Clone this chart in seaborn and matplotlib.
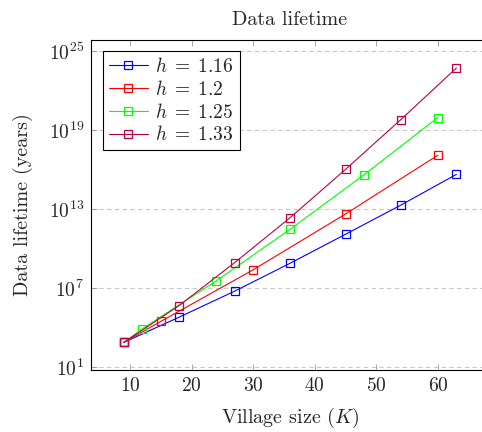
import numpy as np
import pandas as pd
import seaborn as sns
import matplotlib.pyplot as plt

# Values (log10 of data lifetime in years)
k_116 = [9, 18, 27, 36, 45, 54, 63]
log_116 = [2.87, 4.79, 6.76, 8.88, 11.08, 13.30, 15.63]

k_12 = [9, 15, 30, 45, 60]
log_12 = [2.87, 4.46, 8.38, 12.62, 17.09]

k_125 = [9, 12, 24, 36, 48, 60]
log_125 = [2.87, 3.90, 7.54, 11.46, 15.60, 19.95]

k_133 = [9, 18, 27, 36, 45, 54, 63]
log_133 = [2.87, 5.67, 8.93, 12.34, 16.01, 19.80, 23.71]

labels = [r'$h\;=\;1.16$', r'$h\;=\;1.2$', r'$h\;=\;1.25$', r'$h\;=\;1.33$']
colors = ['#0000ff', '#ff0000', '#00ff00', '#bf0040']

frames = []
for lab, ks, ls in zip(labels, [k_116, k_12, k_125, k_133],
                       [log_116, log_12, log_125, log_133]):
    frames.append(pd.DataFrame({'K': ks, 'life': 10.0 ** np.array(ls), 'h': lab}))
data = pd.concat(frames, ignore_index=True)

sns.set_style('ticks')
plt.rcParams['font.family'] = ['cmr10', 'DejaVu Serif']
plt.rcParams['mathtext.fontset'] = 'cm'
plt.rcParams['axes.formatter.use_mathtext'] = True

fig = plt.figure(figsize=(4.82, 4.32), dpi=100)
ax = fig.add_axes([91 / 482, 1 - 370 / 432, (489 - 91) / 482, (370 - 40) / 432])

sns.lineplot(data=data, x='K', y='life', hue='h', hue_order=labels,
             palette=colors, marker='s', markersize=6, markerfacecolor='none',
             markeredgewidth=0.9, linewidth=0.8, ax=ax, sort=False, legend=False)
# open square markers take the line colour
lines = ax.get_lines()[:4]
for line, c in zip(lines, colors):
    line.set_markeredgecolor(c)

ax.set_yscale('log')
ax.set_ylim(10 ** 0.77, 10 ** 25.84)
ax.set_xlim(3.67, 68.3)
ax.set_yticks([1e1, 1e7, 1e13, 1e19, 1e25])
ax.set_yticklabels(['$10^{1}$', '$10^{7}$', '$10^{13}$', '$10^{19}$', '$10^{25}$'])
ax.minorticks_off()
ax.set_xticks([10, 20, 30, 40, 50, 60])

ax.yaxis.grid(True, linestyle=(0, (4, 3)), color='#c8c8c8', linewidth=0.8)
ax.set_axisbelow(True)

ax.tick_params(direction='in', top=True, right=True, labelsize=14,
               length=4, width=0.5, color='#888888', pad=5)
for s in ax.spines.values():
    s.set_linewidth(0.8)
    s.set_color('black')

ax.set_title('Data lifetime', fontsize=14.5, pad=11)
ax.set_xlabel('Village size ($K$)', fontsize=14.5, labelpad=8)
ax.set_ylabel('Data lifetime (years)', fontsize=14.5, labelpad=11)

leg = ax.legend(lines, labels, loc='upper left', fontsize=14, frameon=True,
                fancybox=False, edgecolor='black', framealpha=1,
                handlelength=2.0, borderpad=0.3, labelspacing=0.2,
                handletextpad=0.4, borderaxespad=0,
                bbox_to_anchor=(0.030, 0.967))
leg.get_frame().set_linewidth(0.8)

fig.savefig('out.png', dpi=100)
